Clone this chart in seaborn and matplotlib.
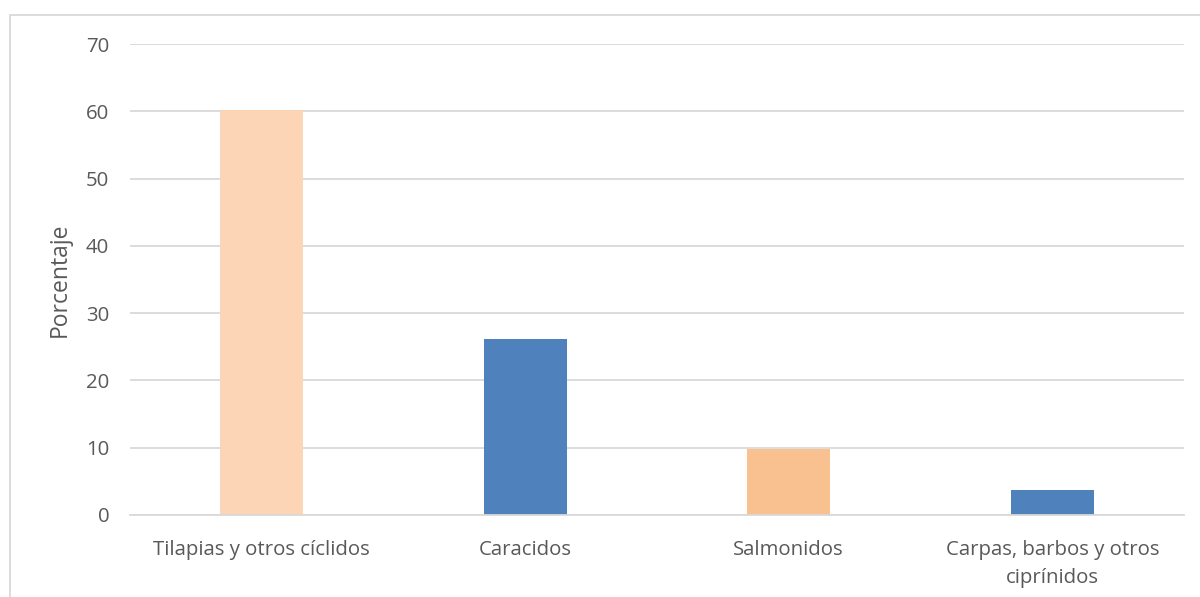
import matplotlib
matplotlib.use("Agg")
import matplotlib.pyplot as plt
import seaborn as sns
import pandas as pd
from matplotlib.patches import Rectangle

categorias = ["Tilapias y otros cíclidos", "Caracidos", "Salmonidos",
              "Carpas, barbos y otros\nciprínidos"]
porcentajes = [60.2, 26.2, 9.8, 3.7]
colores = ["#FBD5B5", "#4F81BD", "#F9C18F", "#4F81BD"]
yticks = [0, 10, 20, 30, 40, 50, 60, 70]

sns.set_theme(style="white")
plt.rcParams["font.family"] = ["Open Sans", "DejaVu Sans"]

df = pd.DataFrame({"categoria": categorias, "porcentaje": porcentajes})

fig = plt.figure(figsize=(12, 5.97), dpi=100)
ax = fig.add_axes([130 / 1200, 1 - 515 / 597, (1184 - 130) / 1200, (515 - 44) / 597])

sns.barplot(data=df, x="categoria", y="porcentaje", hue="categoria",
            palette=colores, legend=False, width=0.315, ax=ax,
            saturation=1, linewidth=0)

ax.set_ylim(0, 70)
ax.set_xlim(-0.5, 3.5)
ax.set_yticks(yticks)
ax.yaxis.grid(True, color="#D9D9D9", linewidth=1.3)
ax.set_axisbelow(True)
for s in ["top", "right", "left"]:
    ax.spines[s].set_visible(False)
ax.spines["bottom"].set_color("#D9D9D9")
ax.spines["bottom"].set_linewidth(1.3)

ax.tick_params(axis="both", length=0, labelsize=14.7, colors="#595959")
ax.tick_params(axis="y", pad=15)
ax.tick_params(axis="x", pad=18)
for lbl in ax.get_xticklabels():
    lbl.set_linespacing(1.5)
ax.set_xlabel("")
ax.set_ylabel("Porcentaje", fontsize=16.5, color="#595959", labelpad=10)

# outer chart frame
fig.patches.append(Rectangle((10 / 1200, -0.05), 1.2, 1 - 15 / 597 + 0.05,
                             transform=fig.transFigure, fill=False,
                             edgecolor="#D9D9D9", linewidth=1.3))

fig.savefig("out.png", dpi=100, facecolor="white")
